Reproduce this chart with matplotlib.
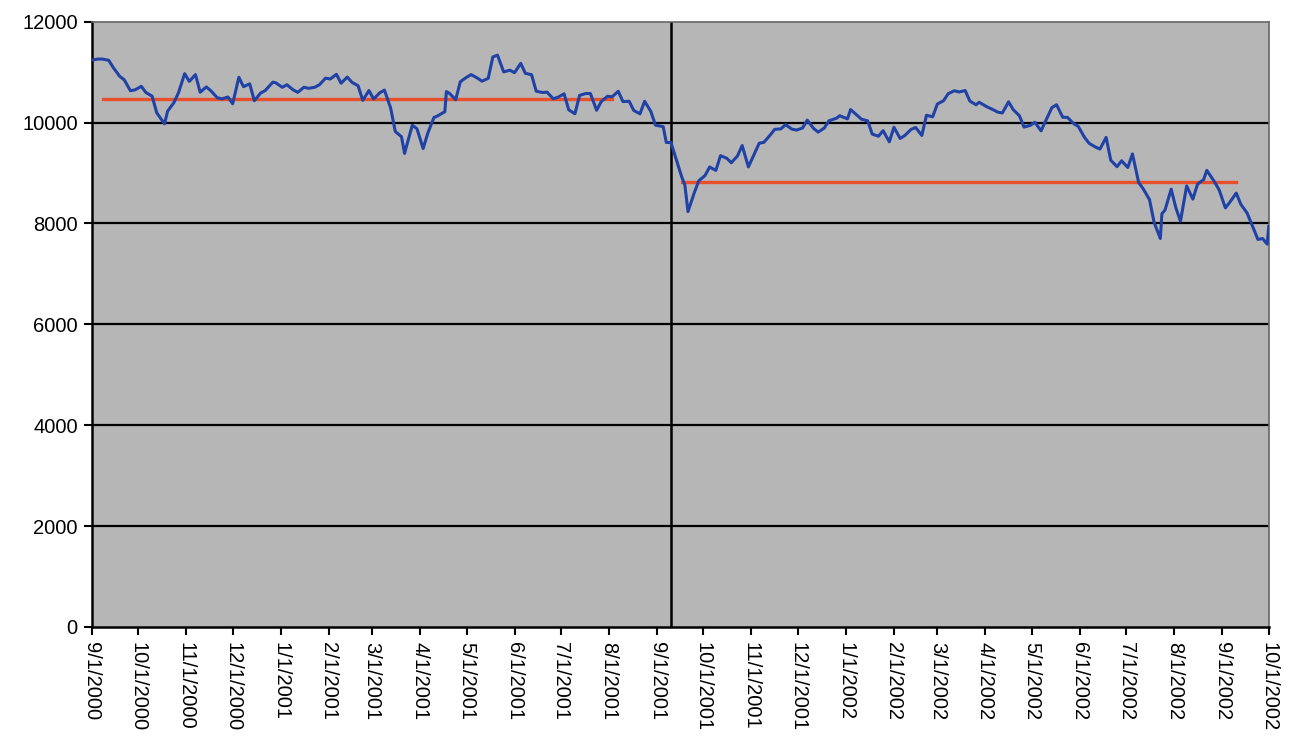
import matplotlib.pyplot as plt
import matplotlib.dates as mdates
import numpy as np
import pandas as pd

plt.rcParams['font.family'] = ['Liberation Sans', 'DejaVu Sans']

# Dow Jones daily closes, sampled about twice a week
dates = [
    "2000-09-01", "2000-09-05", "2000-09-08", "2000-09-12", "2000-09-15", "2000-09-19",
    "2000-09-22", "2000-09-26", "2000-09-29", "2000-10-03", "2000-10-06", "2000-10-10",
    "2000-10-13", "2000-10-18", "2000-10-20", "2000-10-24", "2000-10-27", "2000-10-31",
    "2000-11-03", "2000-11-07", "2000-11-10", "2000-11-14", "2000-11-17", "2000-11-21",
    "2000-11-24", "2000-11-28", "2000-12-01", "2000-12-05", "2000-12-08", "2000-12-12",
    "2000-12-15", "2000-12-19", "2000-12-22", "2000-12-27", "2000-12-29",
    "2001-01-02", "2001-01-05", "2001-01-09", "2001-01-12", "2001-01-16", "2001-01-19",
    "2001-01-23", "2001-01-26", "2001-01-30", "2001-02-02", "2001-02-06", "2001-02-09",
    "2001-02-13", "2001-02-16", "2001-02-20", "2001-02-23", "2001-02-27", "2001-03-02",
    "2001-03-06", "2001-03-09", "2001-03-13", "2001-03-16", "2001-03-20", "2001-03-22",
    "2001-03-23", "2001-03-27", "2001-03-30", "2001-04-03", "2001-04-06", "2001-04-10",
    "2001-04-12", "2001-04-17", "2001-04-18", "2001-04-20", "2001-04-24", "2001-04-27",
    "2001-05-01", "2001-05-04", "2001-05-08", "2001-05-11", "2001-05-15", "2001-05-18",
    "2001-05-21", "2001-05-25", "2001-05-29", "2001-06-01", "2001-06-05", "2001-06-08",
    "2001-06-12", "2001-06-15", "2001-06-19", "2001-06-22", "2001-06-26", "2001-06-29",
    "2001-07-03", "2001-07-06", "2001-07-10", "2001-07-13", "2001-07-17", "2001-07-20",
    "2001-07-24", "2001-07-27", "2001-07-31", "2001-08-03", "2001-08-07", "2001-08-10",
    "2001-08-14", "2001-08-17", "2001-08-21", "2001-08-24", "2001-08-28", "2001-08-31",
    "2001-09-05", "2001-09-07", "2001-09-10", "2001-09-17", "2001-09-19", "2001-09-21",
    "2001-09-25", "2001-09-28", "2001-10-02", "2001-10-05", "2001-10-09", "2001-10-12",
    "2001-10-16", "2001-10-19", "2001-10-23", "2001-10-26", "2001-10-30", "2001-11-02",
    "2001-11-06", "2001-11-09", "2001-11-13", "2001-11-16", "2001-11-20", "2001-11-23",
    "2001-11-27", "2001-11-30", "2001-12-04", "2001-12-07", "2001-12-11", "2001-12-14",
    "2001-12-18", "2001-12-21", "2001-12-26", "2001-12-28",
    "2002-01-02", "2002-01-04", "2002-01-08", "2002-01-11", "2002-01-15", "2002-01-18",
    "2002-01-22", "2002-01-25", "2002-01-29", "2002-02-01", "2002-02-05", "2002-02-08",
    "2002-02-12", "2002-02-15", "2002-02-19", "2002-02-22", "2002-02-26", "2002-03-01",
    "2002-03-05", "2002-03-08", "2002-03-12", "2002-03-15", "2002-03-19", "2002-03-22",
    "2002-03-26", "2002-03-28", "2002-04-02", "2002-04-05", "2002-04-09", "2002-04-12",
    "2002-04-16", "2002-04-19", "2002-04-23", "2002-04-26", "2002-04-30", "2002-05-03",
    "2002-05-07", "2002-05-10", "2002-05-14", "2002-05-17", "2002-05-21", "2002-05-24",
    "2002-05-28", "2002-05-31", "2002-06-04", "2002-06-07", "2002-06-11", "2002-06-14",
    "2002-06-18", "2002-06-21", "2002-06-25", "2002-06-28", "2002-07-02", "2002-07-05",
    "2002-07-09", "2002-07-12", "2002-07-16", "2002-07-19", "2002-07-23", "2002-07-24",
    "2002-07-26", "2002-07-30", "2002-08-02", "2002-08-05", "2002-08-09", "2002-08-13",
    "2002-08-16", "2002-08-20", "2002-08-22", "2002-08-27", "2002-08-30", "2002-09-03",
    "2002-09-06", "2002-09-10", "2002-09-13", "2002-09-17", "2002-09-20", "2002-09-24",
    "2002-09-27", "2002-09-30", "2002-10-01",
]
closes = [
    11238, 11260, 11259, 11234, 11087, 10920,
    10847, 10631, 10650, 10719, 10596, 10524,
    10192, 9975, 10226, 10393, 10590, 10971,
    10817, 10952, 10602, 10707, 10629, 10494,
    10470, 10507, 10373, 10898, 10712, 10768,
    10434, 10584, 10635, 10803, 10786,
    10700, 10750, 10650, 10600, 10700, 10680,
    10700, 10750, 10881, 10864, 10957, 10781,
    10903, 10799, 10730, 10441, 10636, 10466,
    10591, 10644, 10290, 9823, 9720, 9389,
    9504, 9947, 9878, 9485, 9791, 10102,
    10126, 10216, 10615, 10579, 10454, 10810,
    10898, 10951, 10883, 10821, 10877, 11301,
    11337, 11005, 11039, 10990, 11175, 10977,
    10949, 10623, 10596, 10604, 10472, 10502,
    10571, 10252, 10175, 10539, 10577, 10576,
    10244, 10416, 10522, 10512, 10621, 10416,
    10423, 10240, 10174, 10423, 10222, 9949,
    9919, 9605, 9605, 8920, 8759, 8235,
    8603, 8847, 8950, 9119, 9052, 9344,
    9293, 9204, 9340, 9545, 9121, 9323,
    9591, 9608, 9750, 9866, 9875, 9959,
    9872, 9851, 9893, 10049, 9888, 9811,
    9891, 10035, 10088, 10136,
    10073, 10259, 10150, 10067, 10034, 9771,
    9730, 9840, 9618, 9907, 9685, 9744,
    9863, 9903, 9745, 10145, 10115, 10368,
    10433, 10572, 10632, 10607, 10635, 10427,
    10353, 10403, 10313, 10271, 10208, 10190,
    10412, 10257, 10136, 9910, 9946, 10006,
    9836, 10037, 10298, 10353, 10105, 10104,
    9981, 9925, 9709, 9589, 9517, 9474,
    9706, 9253, 9126, 9243, 9109, 9379,
    8813, 8684, 8473, 8019, 7702, 8191,
    8264, 8680, 8313, 8043, 8745, 8482,
    8778, 8872, 9053, 8824, 8663, 8308,
    8427, 8602, 8379, 8207, 7986, 7683,
    7701, 7591, 7938,
]

# average levels before and after the break
before_span = ["2000-09-08", "2001-08-03"]
before_level = 10460
after_span = ["2001-09-17", "2002-09-10"]
after_level = 8830
break_date = "2001-09-10"

month_ticks = pd.date_range("2000-09-01", "2002-10-01", freq="MS")

d = pd.to_datetime(dates)

fig = plt.figure(figsize=(12.92, 7.49), dpi=100)
ax = fig.add_axes([0.071, 0.163, 0.911, 0.808])
ax.set_facecolor("#b6b6b6")

for yv in range(2000, 12000, 2000):
    ax.axhline(yv, color="black", lw=1.6, zorder=1)

ax.axvline(pd.Timestamp(break_date), color="black", lw=1.8, zorder=2)

ax.plot(pd.to_datetime(before_span), [before_level] * 2, color="#e8502c", lw=2.4, zorder=3)
ax.plot(pd.to_datetime(after_span), [after_level] * 2, color="#e8502c", lw=2.4, zorder=3)
ax.plot(d, closes, color="#2042a6", lw=2.2, zorder=4)

ax.set_xlim(pd.Timestamp("2000-09-01"), pd.Timestamp("2002-10-01"))
ax.set_ylim(0, 12000)
ax.set_yticks(range(0, 12001, 2000))
ax.set_xticks(month_ticks)
ax.set_xticklabels([f"{t.month}/{t.day}/{t.year}" for t in month_ticks],
                   rotation=270, ha="center", va="top", fontsize=14.5)
ax.tick_params(axis="y", labelsize=14.5, length=6, width=1.5, direction="out", pad=4)
ax.tick_params(axis="x", length=6, width=1.5, direction="out", pad=5)

ax.spines["left"].set_linewidth(1.8)
ax.spines["bottom"].set_linewidth(1.8)
for s in ("top", "right"):
    ax.spines[s].set_color("#666666")
    ax.spines[s].set_linewidth(1.2)

fig.savefig("out.png", dpi=100)
